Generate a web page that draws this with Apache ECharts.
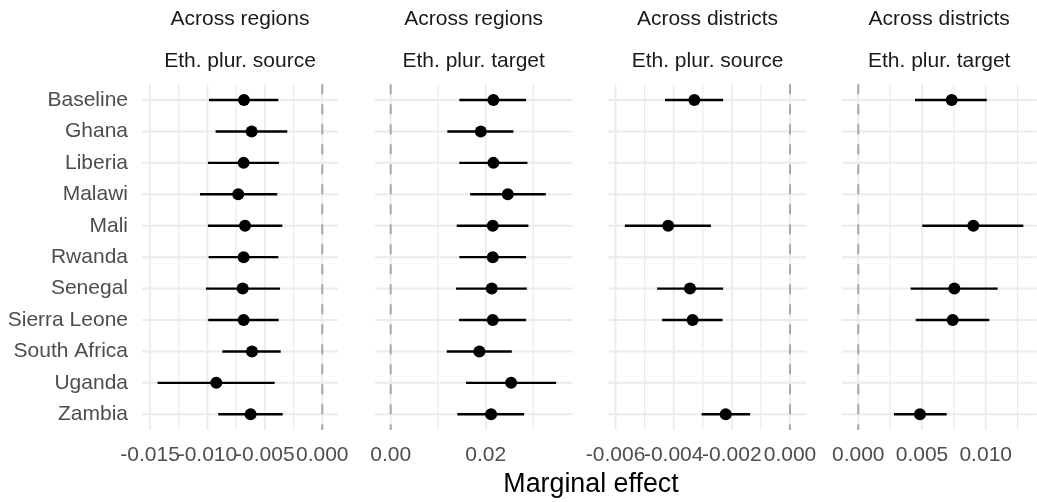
<!DOCTYPE html>
<html><head><meta charset="utf-8">
<script src="https://cdn.jsdelivr.net/npm/echarts@6/dist/echarts.min.js"></script>
<style>html,body{margin:0;padding:0;background:#fff}#c{width:1037px;height:502px}</style>
</head><body><div id="c"></div>
<script>
// ---------------- data ----------------
const categories = ['Baseline','Ghana','Liberia','Malawi','Mali','Rwanda','Senegal','Sierra Leone','South Africa','Uganda','Zambia'];
const stripTop = ['Across regions','Across regions','Across districts','Across districts'];
const stripBottom = ['Eth. plur. source','Eth. plur. target','Eth. plur. source','Eth. plur. target'];
const axisTitle = 'Marginal effect';

// Panel 1: Across regions, Eth. plur. source
const p1Cats = categories;
const p1Est  = [-0.00682,-0.00615,-0.00685,-0.00732,-0.00673,-0.00685,-0.00693,-0.00685,-0.00612,-0.00923,-0.00624];
const p1Low  = [-0.00987,-0.00929,-0.00996,-0.01065,-0.00996,-0.00990,-0.01013,-0.00993,-0.00871,-0.01434,-0.00906];
const p1High = [-0.00383,-0.00305,-0.00377,-0.00392,-0.00348,-0.00383,-0.00368,-0.00380,-0.00362,-0.00415,-0.00345];

// Panel 2: Across regions, Eth. plur. target
const p2Cats = categories;
const p2Est  = [0.02160,0.01895,0.02160,0.02463,0.02147,0.02147,0.02126,0.02147,0.01865,0.02533,0.02112];
const p2Low  = [0.01444,0.01192,0.01444,0.01670,0.01389,0.01444,0.01375,0.01438,0.01179,0.01585,0.01402];
const p2High = [0.02848,0.02581,0.02876,0.03263,0.02897,0.02848,0.02863,0.02848,0.02547,0.03480,0.02806];

// Panel 3: Across districts, Eth. plur. source
const p3Cats = ['Baseline','Mali','Senegal','Sierra Leone','Zambia'];
const p3Est  = [-0.00329,-0.00419,-0.00344,-0.00335,-0.00221];
const p3Low  = [-0.00430,-0.00568,-0.00457,-0.00440,-0.00304];
const p3High = [-0.00230,-0.00272,-0.00230,-0.00232,-0.00137];

// Panel 4: Across districts, Eth. plur. target
const p4Cats = ['Baseline','Mali','Senegal','Sierra Leone','Zambia'];
const p4Est  = [0.00733,0.00903,0.00754,0.00741,0.00484];
const p4Low  = [0.00445,0.00502,0.00411,0.00451,0.00280];
const p4High = [0.01008,0.01295,0.01094,0.01028,0.00694];

// axis limits and ticks
const p1Range = [-0.0157, 0.00137];
const p2Range = [-0.0033, 0.0382];
const p3Range = [-0.00625, 0.000575];
const p4Range = [-0.0013, 0.0140];
const p1Major = [-0.015,-0.010,-0.005,0];   const p1Minor = [-0.0125,-0.0075,-0.0025];
const p2Major = [0,0.02];                   const p2Minor = [0.01,0.03];
const p3Major = [-0.006,-0.004,-0.002,0];   const p3Minor = [-0.005,-0.003,-0.001];
const p4Major = [0,0.005,0.010];            const p4Minor = [0.0025,0.0075,0.0125];
const tickDecimals = [3,2,3,3];
const refLine = [0];

// ---------------- layout ----------------
const FONT = '"Liberation Sans", Arial, Helvetica, sans-serif';
const gridLefts = [142, 375, 608.3, 841.7];
const gridWidths = [196, 197.3, 198.4, 195];
const gridTop = 84.3, gridHeight = 345.7;

const panels = [
  {cats:p1Cats, est:p1Est, low:p1Low, high:p1High, range:p1Range, major:p1Major, minor:p1Minor},
  {cats:p2Cats, est:p2Est, low:p2Low, high:p2High, range:p2Range, major:p2Major, minor:p2Minor},
  {cats:p3Cats, est:p3Est, low:p3Low, high:p3High, range:p3Range, major:p3Major, minor:p3Minor},
  {cats:p4Cats, est:p4Est, low:p4Low, high:p4High, range:p4Range, major:p4Major, minor:p4Minor}
];

const grid = [], xAxis = [], yAxis = [], series = [], graphic = [];

function vLineSeries(gi, values, style, z) {
  return {
    type:'custom', xAxisIndex:gi, yAxisIndex:gi, z:z, silent:true, clip:false,
    data: values.map(v => [v, categories[0]]),
    encode:{x:0, y:1},
    renderItem:(params, api) => {
      const cs = params.coordSys;
      const x = api.coord([api.value(0), api.value(1)])[0];
      return {type:'line', shape:{x1:x, y1:cs.y, x2:x, y2:cs.y + cs.height}, style:style};
    }
  };
}
function hLineSeries(gi, range, style, z) {
  return {
    type:'custom', xAxisIndex:gi, yAxisIndex:gi, z:z, silent:true, clip:false,
    data: categories.map(c => [range[0], c]),
    encode:{x:0, y:1},
    renderItem:(params, api) => {
      const cs = params.coordSys;
      const y = api.coord([api.value(0), api.value(1)])[1];
      return {type:'line', shape:{x1:cs.x, y1:y, x2:cs.x + cs.width, y2:y}, style:style};
    }
  };
}
function tickLabelSeries(gi, values, decimals) {
  return {
    type:'custom', xAxisIndex:gi, yAxisIndex:gi, z:5, silent:true, clip:false,
    data: values.map(v => [v, categories[0]]),
    encode:{x:0, y:1},
    renderItem:(params, api) => {
      const cs = params.coordSys;
      const x = api.coord([api.value(0), api.value(1)])[0];
      return {type:'text', x:x, y:cs.y + cs.height + 15,
        style:{text:Number(api.value(0)).toFixed(decimals), font:'21px ' + FONT, fill:'#4d4d4d', textAlign:'center', textVerticalAlign:'top'}};
    }
  };
}

panels.forEach((p, i) => {
  grid.push({left:gridLefts[i], width:gridWidths[i], top:gridTop, height:gridHeight, containLabel:false});
  xAxis.push({
    type:'value', gridIndex:i, min:p.range[0], max:p.range[1],
    axisLine:{show:false}, axisTick:{show:false}, splitLine:{show:false},
    axisLabel:{show:false}
  });
  yAxis.push({
    type:'category', gridIndex:i, data:categories, inverse:true,
    axisLine:{show:false}, axisTick:{show:false}, splitLine:{show:false},
    axisLabel:{show:i===0, fontSize:21, color:'#4d4d4d', fontFamily:FONT, margin:14}
  });
  series.push(hLineSeries(i, p.range, {stroke:'#ebebeb', lineWidth:2}, 1));
  series.push(vLineSeries(i, p.minor, {stroke:'#ebebeb', lineWidth:1.2}, 1));
  series.push(vLineSeries(i, p.major, {stroke:'#ebebeb', lineWidth:1.8}, 1));
  series.push(vLineSeries(i, refLine, {stroke:'#a8a8a8', lineWidth:2, lineDash:[10,10]}, 2));
  series.push(tickLabelSeries(i, p.major, tickDecimals[i]));
  series.push({
    type:'custom', xAxisIndex:i, yAxisIndex:i, z:3, silent:true,
    data: p.cats.map((c, k) => [p.low[k], p.high[k], c]),
    encode:{x:[0,1], y:2},
    renderItem:(params, api) => {
      const a = api.coord([api.value(0), api.value(2)]);
      const b = api.coord([api.value(1), api.value(2)]);
      return {type:'line', shape:{x1:a[0], y1:a[1], x2:b[0], y2:b[1]}, style:{stroke:'#000', lineWidth:2.4}};
    }
  });
  series.push({
    type:'scatter', xAxisIndex:i, yAxisIndex:i, z:4, silent:true,
    symbol:'circle', symbolSize:12, itemStyle:{color:'#000', opacity:1},
    data: p.cats.map((c, k) => [p.est[k], c])
  });
  const cx = gridLefts[i] + gridWidths[i] / 2;
  graphic.push({type:'text', x:cx, y:19, style:{text:stripTop[i], font:'21px ' + FONT, fill:'#1a1a1a', textAlign:'center', textVerticalAlign:'middle'}});
  graphic.push({type:'text', x:cx, y:61, style:{text:stripBottom[i], font:'21px ' + FONT, fill:'#1a1a1a', textAlign:'center', textVerticalAlign:'middle'}});
});
graphic.push({type:'text', x:591, y:485, style:{text:axisTitle, font:'26.8px ' + FONT, fill:'#000', textAlign:'center', textVerticalAlign:'middle'}});

const chart = echarts.init(document.getElementById('c'), null, {renderer:'canvas'});
chart.setOption({backgroundColor:'#fff', animation:false, grid, xAxis, yAxis, series, graphic});
</script>
</body></html>
